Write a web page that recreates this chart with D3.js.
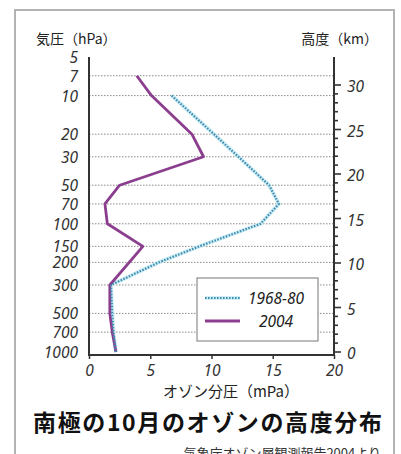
<!DOCTYPE html>
<html>
<head>
<meta charset="utf-8">
<script src="https://cdn.jsdelivr.net/npm/d3@7"></script>
<style>
  html, body { margin: 0; padding: 0; background: #fff; }
  svg { display: block; }
  .num { font-family: "Noto Sans", "DejaVu Sans", sans-serif; font-style: italic; fill: #333; }
  .jp { font-family: "Noto Sans CJK JP", sans-serif; fill: #222; }
</style>
</head>
<body>
<svg id="chart" width="401" height="454"></svg>
<script>
// Pressure (hPa) tick labels on the left axis and dotted grid levels
const pressureTicks = [5, 7, 10, 20, 30, 50, 70, 100, 150, 200, 300, 500, 700, 1000];
const gridPressures = [7, 10, 20, 30, 50, 70, 100, 150, 200, 300, 500, 700];
// Height (km) on the right axis
const heightTicks = [0, 5, 10, 15, 20, 25, 30];
const heightMinorTicks = d3.range(0, 31, 1);
// Ozone partial pressure (mPa) ticks
const ozoneTicks = [0, 5, 10, 15, 20];

// Series: 1968-80 mean profile
const pastPressure = [10, 20, 30, 50, 70, 100, 150, 200, 300, 500, 700, 1000];
const pastOzone    = [6.75, 10.2, 12.2, 14.7, 15.5, 14.0, 9.0, 5.7, 1.8, 1.9, 2.0, 2.2];
// Series: 2004 profile
const p2004Pressure = [7, 10, 20, 30, 50, 70, 100, 150, 300, 500, 700, 1000];
const p2004Ozone    = [3.9, 5.1, 8.4, 9.35, 2.5, 1.3, 1.5, 4.4, 1.7, 1.7, 1.9, 2.2];

const seriesNames = ["1968-80", "2004"];

const svg = d3.select("#chart");

// outer frame
svg.append("rect")
  .attr("x", 15).attr("y", 10).attr("width", 379).attr("height", 470)
  .attr("fill", "#fff").attr("stroke", "#b3b3b3").attr("stroke-width", 2);

const plotL = 89, plotR = 334, plotT = 57, plotB = 355;

const x = d3.scaleLinear().domain([0, 20]).range([plotL, plotR]);
const y = d3.scaleLog().domain([5, 1000]).range([plotT, 352]);
const h = d3.scaleLinear().domain([0, 30]).range([352, 85]);

// dotted grid
svg.append("g").selectAll("line").data(gridPressures).join("line")
  .attr("x1", plotL).attr("x2", plotR)
  .attr("y1", d => y(d)).attr("y2", d => y(d))
  .attr("stroke", "#8a8a8a").attr("stroke-width", 1)
  .attr("stroke-dasharray", "1.5,1.5");

// left pressure labels
svg.append("g").selectAll("text").data(pressureTicks).join("text")
  .attr("class", "num")
  .attr("x", 78).attr("y", d => y(d))
  .attr("text-anchor", "end").attr("dominant-baseline", "central")
  .attr("font-size", 15.5)
  .text(d => d);

// bottom axis (ozone partial pressure)
const xAxis = d3.axisBottom(x).tickValues(ozoneTicks).tickSize(4).tickPadding(6).tickFormat(d => d);
const gx = svg.append("g").attr("transform", `translate(0,${plotB})`).call(xAxis);
gx.select(".domain").remove();
gx.selectAll(".tick line").attr("stroke", "#333").attr("stroke-width", 1.5);
gx.selectAll(".tick text").attr("class", "num").attr("font-size", 15.5)
  .attr("font-family", null)
  .attr("dy", null).attr("y", 15).attr("dominant-baseline", "central");
gx.attr("font-family", null).attr("font-size", null);

// right axis (height) ticks
const hg = svg.append("g");
hg.selectAll("line.minor").data(heightMinorTicks).join("line")
  .attr("class", "minor")
  .attr("x1", plotR).attr("x2", d => plotR + (d % 5 === 0 ? 7 : 4))
  .attr("y1", d => h(d)).attr("y2", d => h(d))
  .attr("stroke", "#333").attr("stroke-width", 1.6);
hg.selectAll("text").data(heightTicks).join("text")
  .attr("class", "num")
  .attr("x", 347).attr("y", d => h(d) + 1)
  .attr("dominant-baseline", "central")
  .attr("font-size", 15.5)
  .text(d => d);

// axis frame lines
svg.append("path")
  .attr("d", `M${plotL},${plotT}V${plotB}H${plotR}V${plotT}`)
  .attr("fill", "none").attr("stroke", "#333").attr("stroke-width", 2);

// profile lines
const line = d3.line().x(d => x(d[0])).y(d => y(d[1]));
const pastData = d3.zip(pastOzone, pastPressure);
const data2004 = d3.zip(p2004Ozone, p2004Pressure);

const pastColor = "#3f8db0";
const color2004 = "#8b3d8e";

svg.append("path").datum(pastData).attr("d", line)
  .attr("fill", "none").attr("stroke", "#c4eaf3").attr("stroke-width", 4).attr("opacity", 0.8);
svg.append("path").datum(data2004).attr("d", line)
  .attr("fill", "none").attr("stroke", color2004).attr("stroke-width", 2.8)
  .attr("stroke-linejoin", "round");
svg.append("path").datum(pastData).attr("d", line)
  .attr("fill", "none").attr("stroke", pastColor).attr("stroke-width", 2.2)
  .attr("stroke-dasharray", "1.6,1.4");

// legend
const lg = svg.append("g");
lg.append("rect").attr("x", 197).attr("y", 278).attr("width", 121).attr("height", 63)
  .attr("fill", "#fff").attr("stroke", "#8c8c8c").attr("stroke-width", 1.2);
lg.append("line").attr("x1", 205).attr("x2", 240).attr("y1", 298).attr("y2", 298)
  .attr("stroke", "#c4eaf3").attr("stroke-width", 4).attr("opacity", 0.8);
lg.append("line").attr("x1", 205).attr("x2", 240).attr("y1", 298).attr("y2", 298)
  .attr("stroke", pastColor).attr("stroke-width", 2.2).attr("stroke-dasharray", "1.6,1.4");
lg.append("line").attr("x1", 205).attr("x2", 240).attr("y1", 321).attr("y2", 321)
  .attr("stroke", color2004).attr("stroke-width", 2.8);
lg.selectAll("text").data(seriesNames).join("text")
  .attr("class", "num")
  .attr("x", 276).attr("y", (d, i) => 298 + i * 23)
  .attr("text-anchor", "middle").attr("dominant-baseline", "central")
  .attr("font-size", 15.5).style("fill", "#222")
  .text(d => d);

// axis titles
svg.append("text").attr("class", "jp").attr("x", 36).attr("y", 38)
  .attr("dominant-baseline", "central").attr("font-size", 14).text("気圧（hPa）");
svg.append("text").attr("class", "jp").attr("x", 378).attr("y", 38)
  .attr("text-anchor", "end").attr("dominant-baseline", "central").attr("font-size", 14).text("高度（km）");
svg.append("text").attr("class", "jp").attr("x", 231).attr("y", 390)
  .attr("text-anchor", "middle").attr("dominant-baseline", "central").attr("font-size", 15).text("オゾン分圧（mPa）");

// title and source
svg.append("text").attr("class", "jp").attr("x", 33).attr("y", 421)
  .attr("dominant-baseline", "central").attr("font-size", 23).attr("font-weight", "bold")
  .attr("textLength", 349).attr("lengthAdjust", "spacing")
  .style("fill", "#111")
  .text("南極の10月のオゾンの高度分布");
svg.append("text").attr("class", "jp").attr("x", 381).attr("y", 452)
  .attr("text-anchor", "end").attr("dominant-baseline", "central").attr("font-size", 13)
  .style("fill", "#333")
  .text("気象庁オゾン層観測報告2004より");
</script>
</body>
</html>
